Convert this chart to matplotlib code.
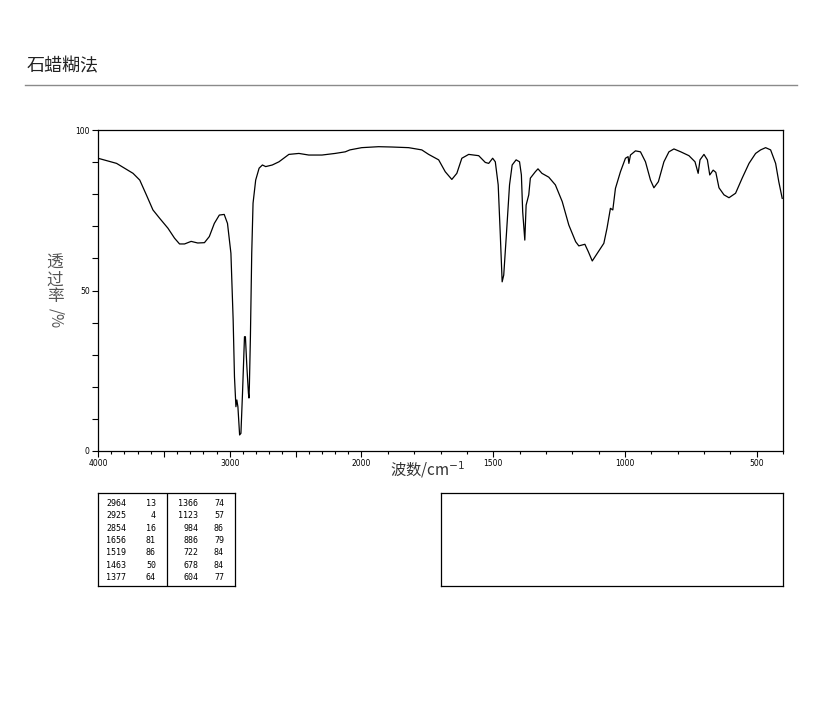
import numpy as np
import matplotlib
matplotlib.use("Agg")
import matplotlib.pyplot as plt
from matplotlib.ticker import FixedLocator, NullFormatter, FixedFormatter

plt.rcParams['font.family'] = ['Noto Sans CJK SC', 'DejaVu Sans']

title = "石蜡糊法"
ylabel_cjk = "透\n过\n率"
ylabel_unit = "/%"
xlabel = "波数/cm$^{-1}$"

wavenumber = [4000, 3859, 3734, 3683, 3633, 3583, 3532, 3469, 3419, 3381, 3343, 3293,
              3243, 3192, 3155, 3117, 3079, 3042, 3017, 2991, 2974, 2964, 2953, 2946,
              2938, 2925, 2915, 2903, 2888, 2881, 2870, 2858, 2854, 2851, 2843, 2833,
              2823, 2803, 2777, 2752, 2727, 2677, 2626, 2551, 2475, 2400, 2300, 2200,
              2123, 2088, 1999, 1935, 1885, 1821, 1771, 1745, 1707, 1682, 1657, 1638,
              1619, 1593, 1555, 1530, 1517, 1502, 1492, 1481, 1473, 1466, 1460, 1450,
              1438, 1428, 1413, 1400, 1393, 1388, 1380, 1375, 1365, 1359, 1340, 1330,
              1315, 1289, 1264, 1238, 1213, 1187, 1175, 1152, 1139, 1124, 1105, 1080,
              1068, 1055, 1046, 1036, 1017, 998, 988, 985, 979, 960, 941, 922, 903,
              890, 873, 852, 833, 814, 788, 757, 734, 722, 715, 700, 687, 678, 665,
              655, 643, 624, 605, 580, 555, 529, 504, 485, 466, 447, 428, 416, 403]
transmittance = [91.2, 89.6, 86.5, 84.4, 79.8, 75.1, 72.5, 69.4, 66.3, 64.5, 64.5, 65.3,
                 64.8, 64.9, 66.8, 70.9, 73.5, 73.7, 70.9, 61.6, 40.8, 23.1, 13.8, 15.9,
                 13.8, 5.0, 5.5, 18.0, 35.6, 35.6, 26.3, 18.0, 16.5, 20.0, 35.6, 61.6,
                 77.2, 84.4, 88.1, 89.1, 88.6, 89.1, 90.1, 92.4, 92.7, 92.2, 92.2, 92.7,
                 93.2, 93.8, 94.5, 94.8, 94.7, 94.5, 93.8, 92.4, 90.7, 87.0, 84.6, 86.5,
                 91.2, 92.4, 92.0, 89.9, 89.6, 91.2, 90.1, 82.9, 67.3, 52.7, 54.8, 67.3,
                 82.9, 89.1, 90.7, 90.1, 86.0, 74.5, 65.7, 76.6, 79.8, 85.0, 87.0, 87.9,
                 86.5, 85.3, 82.9, 77.7, 70.4, 65.2, 63.9, 64.4, 62.1, 59.2, 61.6, 64.7,
                 69.4, 75.6, 75.1, 81.8, 87.0, 91.2, 91.7, 89.6, 92.2, 93.5, 93.2, 90.1,
                 84.4, 82.0, 83.9, 90.1, 93.2, 94.1, 93.2, 92.0, 90.1, 86.5, 90.7, 92.4,
                 90.7, 86.0, 87.5, 86.8, 82.0, 79.8, 78.9, 80.3, 85.0, 89.6, 92.7, 93.8,
                 94.5, 93.8, 89.6, 83.9, 78.7]

# peak table
peak_wn_left = [2964, 2925, 2854, 1656, 1519, 1463, 1377]
peak_t_left = [13, 4, 16, 81, 86, 50, 64]
peak_wn_right = [1366, 1123, 984, 886, 722, 678, 604]
peak_t_right = [74, 57, 86, 79, 84, 84, 77]

x_major = [4000, 3500, 3000, 2500, 2000, 1500, 1000, 500]
x_labels = {4000: "4000", 3000: "3000", 2000: "2000", 1500: "1500", 1000: "1000", 500: "500"}
y_major = [0, 50, 100]

W, H = 822, 709
fig = plt.figure(figsize=(W / 100, H / 100), dpi=100)

def fx(px):
    return px / W

def fy(py):
    return 1 - py / H

# title and rule
fig.text(fx(27), fy(66), title, fontsize=13, color="#222222", va="center", ha="left")
fig.add_artist(plt.Line2D([fx(25), fx(797)], [fy(85), fy(85)], color="#8a8a8a", lw=1.0))

# main axes
ax = fig.add_axes([fx(98), fy(451), (783 - 98) / W, (451 - 130) / H])

def fwd(w):
    w = np.asarray(w, dtype=float)
    return np.where(w > 2000, 2000 + (w - 2000) / 2, w)

def inv(u):
    u = np.asarray(u, dtype=float)
    return np.where(u > 2000, 2000 + 2 * (u - 2000), u)

ax.set_xscale("function", functions=(fwd, inv))
ax.plot(wavenumber, transmittance, color="black", lw=0.9)
ax.set_xlim(4000, 400)
ax.set_ylim(0, 100)

for s in ax.spines.values():
    s.set_linewidth(0.9)

ax.xaxis.set_major_locator(FixedLocator(x_major))
ax.xaxis.set_major_formatter(FixedFormatter([x_labels.get(v, "") for v in x_major]))
ax.xaxis.set_minor_locator(FixedLocator([v for v in range(400, 4001, 100) if v not in x_major]))
ax.xaxis.set_minor_formatter(NullFormatter())
ax.yaxis.set_major_locator(FixedLocator(y_major))
ax.yaxis.set_minor_locator(FixedLocator([v for v in range(0, 101, 10) if v not in y_major]))
ax.yaxis.set_minor_formatter(NullFormatter())

ax.tick_params(axis="x", which="major", direction="out", length=4, width=0.8, labelsize=5.5, pad=1.5)
ax.tick_params(axis="x", which="minor", direction="out", length=2.5, width=0.8)
ax.tick_params(axis="y", which="both", direction="out", length=4.5, width=0.8, labelsize=5.5, pad=1.5)
for lab in ax.get_xticklabels() + ax.get_yticklabels():
    lab.set_family("DejaVu Sans")

# axis labels
fig.text(fx(55), fy(255), ylabel_cjk, fontsize=12, color="#555555", ha="center", va="top",
         linespacing=0.95)
fig.text(fx(56), fy(318), ylabel_unit, fontsize=11, color="#555555", ha="center", va="center",
         rotation=-90)
fig.text(fx(428), fy(470), xlabel, fontsize=11, color="#333333", ha="center", va="center")

# peak table (left)
tab = fig.add_axes([fx(98), fy(586), (235 - 98) / W, (586 - 493) / H])
tab.set_xlim(98, 235)
tab.set_ylim(586, 493)
tab.set_xticks([])
tab.set_yticks([])
for s in tab.spines.values():
    s.set_linewidth(0.9)
tab.axvline(167, color="black", lw=0.9)
row_y = [503.5, 516, 528.5, 540.5, 553, 565.5, 577.5]
for i, yy in enumerate(row_y):
    kw = dict(fontsize=6, family="DejaVu Sans Mono", va="center", ha="right")
    tab.text(126, yy, str(peak_wn_left[i]), **kw)
    tab.text(156, yy, str(peak_t_left[i]), **kw)
    tab.text(198, yy, str(peak_wn_right[i]), **kw)
    tab.text(224, yy, str(peak_t_right[i]), **kw)

# empty right box
box = fig.add_axes([fx(441), fy(586), (783 - 441) / W, (586 - 493) / H])
box.set_xticks([])
box.set_yticks([])
for s in box.spines.values():
    s.set_linewidth(0.9)

fig.savefig("out.png", dpi=100)
